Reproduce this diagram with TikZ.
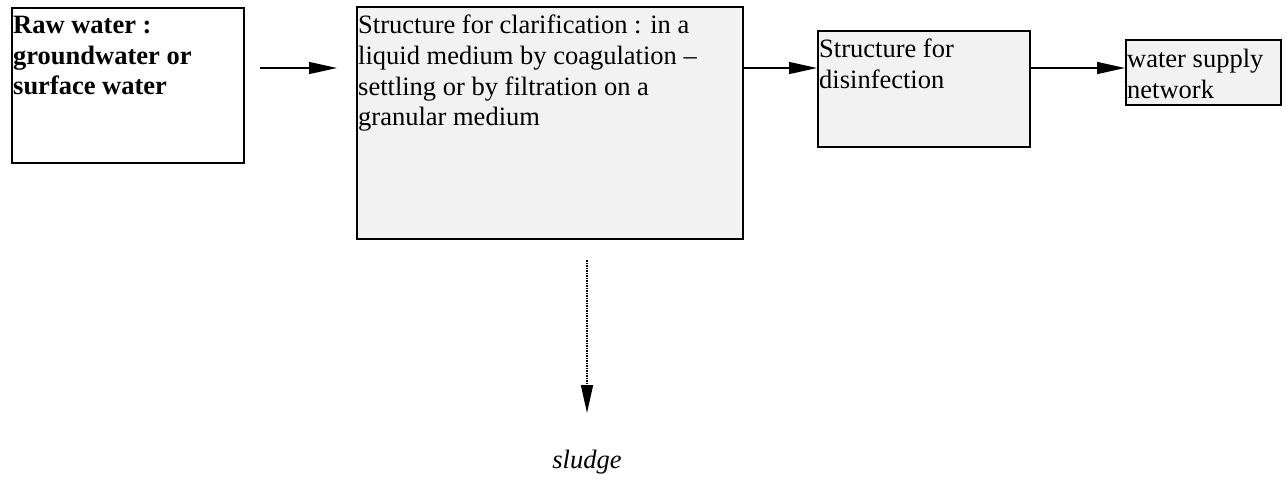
\documentclass[tikz,border=0pt]{standalone}
\usepackage{fontspec}
\setmainfont{Liberation Serif}
\usetikzlibrary{arrows.meta}
\definecolor{boxgray}{HTML}{F2F2F2}
\begin{document}
\begin{tikzpicture}[x=1pt,y=-1pt,
  box/.style={draw, line width=2pt, inner sep=0pt, anchor=north west},
  txt/.style={anchor=north west, inner sep=0pt, align=left,
              font=\fontsize{26.5}{30.7}\selectfont},
  flow/.style={line width=1.3pt, -{Triangle[length=28pt,width=12pt]}}]
\useasboundingbox (0,0) rectangle (1287,483);

% process boxes
\node[box, fill=white, minimum width=232pt, minimum height=155pt] (raw) at (11,7) {};
\node[box, fill=boxgray, minimum width=386pt, minimum height=232pt] (clar) at (356,6) {};
\node[box, fill=boxgray, minimum width=212pt, minimum height=116pt] (dis) at (817,30) {};
\node[box, fill=boxgray, minimum width=155pt, minimum height=65pt] (net) at (1125,39) {};

% box texts, set from the top left corner
\node[txt, font=\fontsize{26.5}{30.7}\selectfont\bfseries] (rawtxt) at ([shift={(2,9)}]raw.north west)
  {Raw water :\\groundwater or\\surface water};
\node[txt] (clartxt) at ([shift={(2,9)}]clar.north west)
  {Structure for clarification : in a\\liquid medium by coagulation --\\settling or by filtration on a\\granular medium};
\node[txt] (distxt) at ([shift={(2,9)}]dis.north west)
  {Structure for\\disinfection};
\node[txt] (nettxt) at ([shift={(2,10)}]net.north west)
  {water supply\\network};

% main flow
\coordinate (in1) at (260,68);
\coordinate (in2) at (337,68);
\draw[flow] (in1) -- (in2);
\draw[flow] (clar.east |- in1) -- (dis.west |- in1);
\draw[flow] (dis.east |- in1) -- (net.west |- in1);

% sludge outlet
\coordinate (s1) at (587,260);
\coordinate (s2) at (587,413);
\draw[flow, line width=1.5pt, dash pattern=on 1.5pt off 1pt] (s1) -- (s2);
\node[font=\fontsize{26.5}{30}\selectfont\itshape] (sludge) at (587,462) {sludge};
\end{tikzpicture}
\end{document}
